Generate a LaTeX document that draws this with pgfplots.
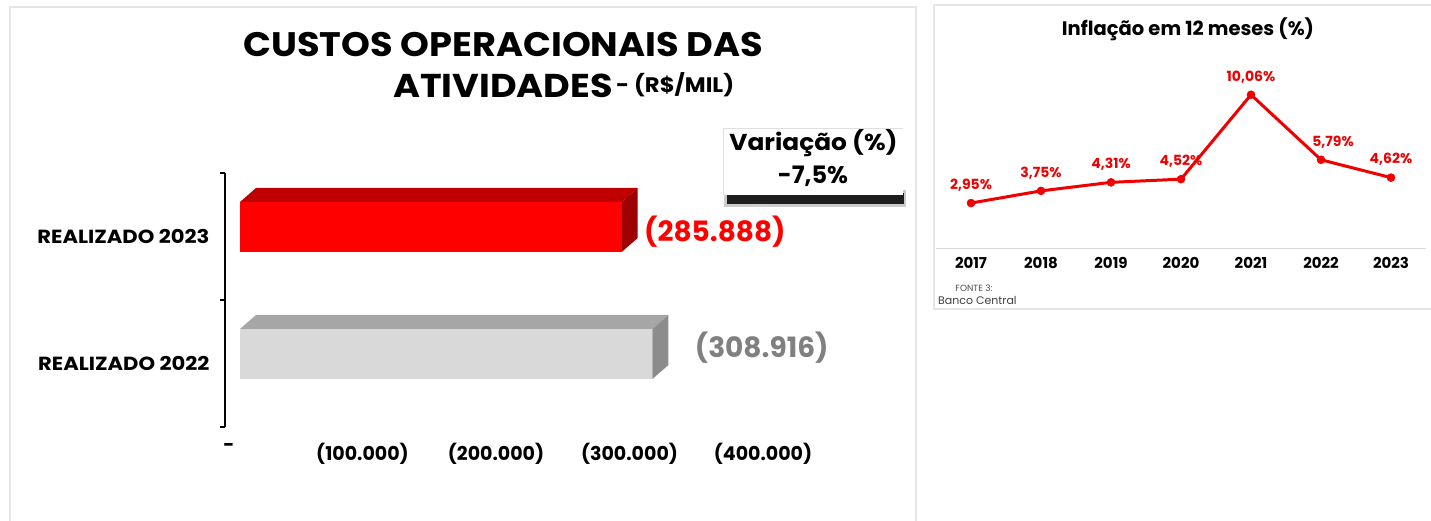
\documentclass[border=0pt]{standalone}
\usepackage{pgfplots}
\pgfplotsset{compat=1.18}
\usepackage{fontspec}
\setmainfont{Poppins}
\newfontfamily\titlefont[FakeStretch=1.08]{Poppins}
\newfontfamily\catfont[FakeStretch=1.11]{Poppins}
\definecolor{barred}{RGB}{255,0,0}
\definecolor{barredtop}{RGB}{192,0,0}
\definecolor{barredside}{RGB}{158,0,0}
\definecolor{bargrey}{RGB}{217,217,217}
\definecolor{bargreytop}{RGB}{166,166,166}
\definecolor{bargreyside}{RGB}{140,140,140}
\definecolor{labgrey}{RGB}{128,128,128}
\definecolor{panel}{RGB}{230,230,230}
\definecolor{lred}{RGB}{240,0,0}
\begin{document}
\begin{tikzpicture}
\useasboundingbox (0,0) rectangle (1431pt,-521pt);
\fill[white] (0,0) rectangle (1431pt,-521pt);
% panels
\draw[panel, line width=1.5pt] (10pt,-530pt) -- (10pt,-7pt) -- (916pt,-7pt) -- (916pt,-530pt);
\draw[panel, line width=1.5pt] (1440pt,-5pt) -- (934pt,-5pt) -- (934pt,-309pt) -- (1440pt,-309pt);

% left title
\node[anchor=base west, inner sep=0, font=\titlefont\fontsize{34}{40}\selectfont\bfseries] at (243pt,-57pt) {CUSTOS OPERACIONAIS DAS};
\node[anchor=base west, inner sep=0, font=\catfont\fontsize{33}{40}\selectfont\bfseries] at (393pt,-98pt) {ATIVIDADES};
\node[anchor=base west, inner sep=0, font=\titlefont\fontsize{21}{25}\selectfont\bfseries] at (616pt,-93pt) {- (R\$/MIL)};

% variation box
\fill[black, opacity=0.2] (724pt,-190pt) rectangle (906pt,-207pt);
\fill[black, opacity=0.85] (727pt,-193pt) rectangle (904pt,-204pt);
\fill[white] (723pt,-128pt) rectangle (903pt,-195pt);
\draw[gray!25, line width=0.8pt] (723pt,-195pt) -- (723pt,-128pt) -- (903pt,-128pt);
\node[font=\titlefont\fontsize{23}{27}\selectfont\bfseries] at (813.5pt,-143pt) {Variação (\%)};
\node[font=\fontsize{24}{28}\selectfont\bfseries] at (813pt,-176pt) {-7,5\%};

\begin{axis}[
  at={(225pt,-427pt)}, anchor=south west,
  scale only axis, width=682.5pt, height=254pt,
  xmin=-11236, xmax=500000, ymin=-0.5, ymax=1.5,
  scaled x ticks=false,
  axis x line*=bottom, axis y line*=left,
  x axis line style={draw=none},
  y axis line style={black, line width=1.3pt},
  xtick={0,100000,200000,300000,400000},
  xticklabels={-,(100.000),(200.000),(300.000),(400.000)},
  xticklabel style={font=\fontsize{19}{22}\selectfont\bfseries, yshift=-13pt, xshift=-11pt},
  major tick length=0pt,
  ytick={0,1}, yticklabels={REALIZADO 2022,REALIZADO 2023},
  yticklabel style={font=\catfont\fontsize{19}{22}\selectfont\bfseries, xshift=-12pt},
  extra y ticks={-0.5,0.5,1.5}, extra y tick labels={},
  extra y tick style={tick align=outside, major tick length=5pt, tick style={draw=black, line width=1.3pt}},
  clip=false,
]
% 2022 (grey)
\addplot[fill=bargreytop, draw=none] coordinates {(0,0.2717) (308916,0.2717) (320901,0.382) (11985,0.382)};
\addplot[fill=bargreyside, draw=none] coordinates {(308916,-0.122) (308916,0.2717) (320901,0.382) (320901,-0.012)};
\addplot[xbar, bar width=50pt, bar shift=9.5pt, fill=bargrey, draw=none,
  point meta=explicit symbolic, nodes near coords,
  every node near coord/.append style={anchor=west, xshift=39pt, yshift=15.5pt, text=labgrey, font=\fontsize{28}{33}\selectfont\bfseries}]
  coordinates {(308916,0) [(308.916)]};
% 2023 (red)
\addplot[fill=barredtop, draw=none] coordinates {(0,1.2717) (285888,1.2717) (297873,1.382) (11985,1.382)};
\addplot[fill=barredside, draw=none] coordinates {(285888,0.878) (285888,1.2717) (297873,1.382) (297873,0.988)};
\addplot[xbar, bar width=50pt, bar shift=9.5pt, fill=barred, draw=none,
  point meta=explicit symbolic, nodes near coords,
  every node near coord/.append style={anchor=west, xshift=19pt, yshift=4.5pt, text=barred, font=\fontsize{28}{33}\selectfont\bfseries}]
  coordinates {(285888,1) [(285.888)]};
\end{axis}

% right chart
\node[font=\fontsize{19.5}{23}\selectfont\bfseries] at (1188pt,-29pt) {Inflação em 12 meses (\%)};
\begin{axis}[
  at={(936pt,-248pt)}, anchor=south west, scale only axis,
  width=490pt, height=182.8pt,
  xmin=2016.5, xmax=2023.5, ymin=0, ymax=12,
  axis x line*=bottom, axis y line=none,
  x axis line style={draw=gray!30, line width=1pt},
  xtick={2017,2018,2019,2020,2021,2022,2023},
  xticklabels={2017,2018,2019,2020,2021,2022,2023},
  major tick length=0pt,
  xticklabel style={font=\fontsize{15}{18}\selectfont\bfseries, yshift=-5.5pt},
  ytick=\empty,
  clip=false,
]
\addplot[color=lred, line width=3pt, mark=*, mark size=4pt,
  mark options={fill=lred, draw=lred, line width=0.5pt},
  point meta=explicit symbolic, nodes near coords,
  every node near coord/.append style={anchor=center, yshift=18pt, text=lred, font=\fontsize{14}{16}\selectfont\bfseries},
  coordinate style/.condition={x==2022}{xshift=12pt}]
  coordinates {(2017,2.95) [2,95\%] (2018,3.75) [3,75\%] (2019,4.31) [4,31\%] (2020,4.52) [4,52\%] (2021,10.06) [10,06\%] (2022,5.79) [5,79\%] (2023,4.62) [4,62\%]};
\end{axis}
\node[font=\fontsize{9}{10}\selectfont, text=black!70] at (974pt,-288pt) {FONTE 3:};
\node[anchor=west, inner sep=0, font=\fontsize{11}{13}\selectfont, text=black!75] at (938pt,-300pt) {Banco Central};
\end{tikzpicture}
\end{document}
